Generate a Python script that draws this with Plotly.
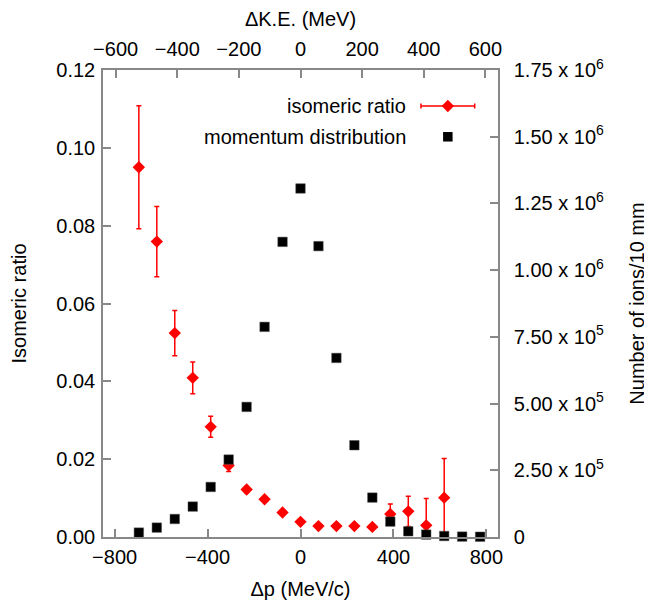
import plotly.graph_objects as go

# ---- data ----
dp_iso = [-695.7, -618.4, -541.1, -463.8, -386.5, -309.2, -231.9, -154.6, -77.3,
          0.0, 77.3, 154.6, 231.9, 309.2, 386.5, 463.8, 541.1, 618.4]
iso_ratio = [0.0950, 0.0759, 0.0524, 0.0409, 0.0283, 0.0184, 0.0122, 0.0097, 0.0063,
             0.0039, 0.0028, 0.0028, 0.0028, 0.0026, 0.0059, 0.0066, 0.0030, 0.0101]
iso_err_plus = [0.0158, 0.0090, 0.0058, 0.0041, 0.0027, 0.0012, 0.0008, 0.0004, 0.0004,
                0.0003, 0.0003, 0.0003, 0.0003, 0.0003, 0.0026, 0.0039, 0.0069, 0.0101]
iso_err_minus = [0.0158, 0.0090, 0.0058, 0.0041, 0.0027, 0.0016, 0.0008, 0.0004, 0.0004,
                 0.0003, 0.0003, 0.0003, 0.0003, 0.0003, 0.0026, 0.0039, 0.0030, 0.0101]

dp_mom = [-695.7, -618.4, -541.1, -463.8, -386.5, -309.2, -231.9, -154.6, -77.3, 0.0,
          77.3, 154.6, 231.9, 309.2, 386.5, 463.8, 541.1, 618.4, 695.7, 773.0]
ions = [16500, 35200, 67500, 114000, 187500, 290200, 487500, 787500, 1106000, 1306000,
        1090000, 671000, 343900, 147700, 57700, 21400, 9000, 3700, 1500, 1000]

dp_ticks = [-800, -400, 0, 400, 800]
ke_ticks = [-600, -400, -200, 0, 200, 400, 600]
ratio_ticks = [0.00, 0.02, 0.04, 0.06, 0.08, 0.10, 0.12]
ratio_ticktext = ["0.00", "0.02", "0.04", "0.06", "0.08", "0.10", "0.12"]
ion_ticks = [0, 250000, 500000, 750000, 1000000, 1250000, 1500000, 1750000]
ion_ticktext = ["0", "2.50 x 10<sup>5</sup>", "5.00 x 10<sup>5</sup>", "7.50 x 10<sup>5</sup>",
                "1.00 x 10<sup>6</sup>", "1.25 x 10<sup>6</sup>", "1.50 x 10<sup>6</sup>",
                "1.75 x 10<sup>6</sup>"]

RED = "#ff0000"
GRAY = "#888888"
FONT = "Liberation Sans"
FS = 20

fig = go.Figure()

fig.add_trace(go.Scatter(
    x=dp_iso, y=iso_ratio, mode="markers", name="isomeric ratio",
    marker=dict(symbol="diamond", size=9.5, color=RED),
    error_y=dict(type="data", array=iso_err_plus, arrayminus=iso_err_minus,
                 color=RED, thickness=1.5, width=2.5),
    xaxis="x", yaxis="y", showlegend=False, cliponaxis=True))

fig.add_trace(go.Scatter(
    x=dp_mom, y=ions, mode="markers", name="momentum distribution",
    marker=dict(symbol="square", size=9.5, color="black",
                line=dict(color="#555555", width=0.5)),
    xaxis="x", yaxis="y2", showlegend=False, cliponaxis=False))

# invisible trace to bring up the top axis
fig.add_trace(go.Scatter(x=ke_ticks, y=[0.0] * len(ke_ticks), mode="markers",
                         marker=dict(opacity=0), xaxis="x2", yaxis="y",
                         showlegend=False, hoverinfo="skip"))

# legend keys (on a hidden unit overlay)
fig.add_trace(go.Scatter(x=[0.873], y=[0.923], mode="markers",
                         marker=dict(symbol="diamond", size=9.5, color=RED),
                         error_x=dict(type="constant", value=0.068, color=RED,
                                      thickness=1.5, width=2.5),
                         xaxis="x3", yaxis="y3", showlegend=False, hoverinfo="skip"))
fig.add_trace(go.Scatter(x=[0.873], y=[0.857], mode="markers",
                         marker=dict(symbol="square", size=9.5, color="black"),
                         xaxis="x3", yaxis="y3", showlegend=False, hoverinfo="skip"))

def ax(**kw):
    d = dict(showgrid=False, zeroline=False, showline=True, linecolor=GRAY,
             linewidth=1.5, ticks="inside", ticklen=8, tickcolor=GRAY,
             tickwidth=1.5, automargin=False,
             tickfont=dict(family=FONT, size=FS, color="black"))
    d.update(kw)
    return d

hidden = dict(range=[0, 1], visible=False, showticklabels=False, ticks="",
              showgrid=False, zeroline=False, showline=False, automargin=False)

fig.update_layout(
    width=644, height=592,
    margin=dict(l=95, r=154, t=62, b=63, autoexpand=False),
    paper_bgcolor="white", plot_bgcolor="white",
    font=dict(family=FONT, size=FS, color="black"),
    xaxis=ax(range=[-850, 850], tickvals=dp_ticks, ticklabelstandoff=1,
             title=dict(text="Δp (MeV/c)", font=dict(family=FONT, size=FS), standoff=15)),
    xaxis2=ax(range=[-641, 641], tickvals=ke_ticks, overlaying="x", side="top",
              ticklabelstandoff=4,
              title=dict(text="ΔK.E. (MeV)", font=dict(family=FONT, size=FS), standoff=12)),
    yaxis=ax(range=[0, 0.12], tickvals=ratio_ticks, ticktext=ratio_ticktext,
             ticklabelstandoff=2,
             title=dict(text="Isomeric ratio", font=dict(family=FONT, size=FS), standoff=26)),
    yaxis2=ax(range=[0, 1750000], tickvals=ion_ticks, ticktext=ion_ticktext,
              overlaying="y", side="right", ticklabelstandoff=10,
              title=dict(text="Number of ions/10 mm", font=dict(family=FONT, size=FS),
                         standoff=27)),
    xaxis3=dict(overlaying="x", **hidden),
    yaxis3=dict(overlaying="y", **hidden),
    annotations=[
        dict(text="isomeric ratio", xref="paper", yref="paper", x=0.773, y=0.923,
             xanchor="right", yanchor="middle", showarrow=False,
             font=dict(family=FONT, size=FS, color="black")),
        dict(text="momentum distribution", xref="paper", yref="paper", x=0.773, y=0.857,
             xanchor="right", yanchor="middle", showarrow=False,
             font=dict(family=FONT, size=FS, color="black")),
    ],
)

fig.write_html("out.html")
